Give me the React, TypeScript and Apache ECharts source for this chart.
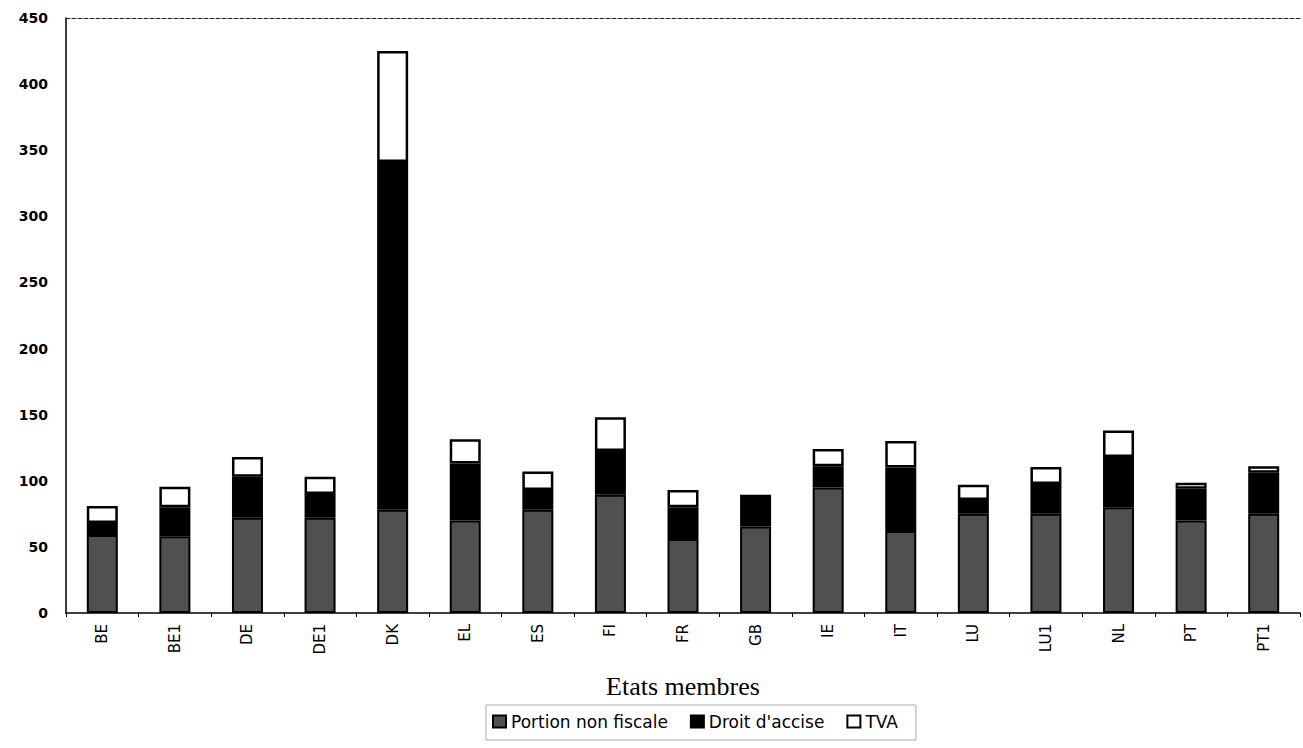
import React, { useEffect, useRef } from "react";
import * as echarts from "echarts";

const categories = ["BE", "BE1", "DE", "DE1", "DK", "EL", "ES", "FI", "FR", "GB", "IE", "IT", "LU", "LU1", "NL", "PT", "PT1"];
const portionNonFiscale = [59, 58, 72, 72, 78, 70, 78, 89.5, 56, 65.5, 95, 62, 75, 75, 80, 70, 75];
const droitAccise = [9, 22, 31, 18, 263, 43, 15, 33, 24, 23, 16, 48, 10.5, 22.5, 38, 24, 31];
const tva = [13, 15.5, 15, 13, 84, 18.5, 14, 25.5, 13, 0, 13, 20, 11.5, 13, 20, 4.5, 5];
const yTicks = { min: 0, max: 450, interval: 50 };

export default function App() {
  const ref = useRef<HTMLDivElement>(null);
  useEffect(() => {
    if (!ref.current) return;
    const chart = echarts.init(ref.current, null, { renderer: "svg" });
    const barW = 31;
    chart.setOption({
      animation: false,
      backgroundColor: "#ffffff",
      grid: { left: 66, right: 3, top: 18, bottom: 135 },
      legend: {
        data: ["Portion non fiscale", "Droit d'accise", "TVA"],
        left: 486,
        top: 705,
        padding: [8, 18, 10, 6],
        itemGap: 22,
        itemWidth: 13,
        itemHeight: 12,
        icon: "rect",
        borderColor: "#aaaaaa",
        borderWidth: 1,
        textStyle: { fontFamily: "DejaVu Sans", fontSize: 17, color: "#000" },
      },
      xAxis: [
        {
          type: "category",
          data: categories,
          name: "Etats membres",
          nameLocation: "middle",
          nameGap: 60,
          nameTextStyle: { fontFamily: "Liberation Serif", fontSize: 26, color: "#000" },
          axisLine: { lineStyle: { color: "#000", width: 1.5 } },
          axisTick: { show: true, length: 4, lineStyle: { color: "#000" } },
          axisLabel: {
            rotate: 90,
            fontFamily: "DejaVu Sans",
            fontSize: 15,
            color: "#000",
            margin: 11,
          },
        },
        {
          type: "category",
          data: categories,
          position: "top",
          axisLine: { show: true, lineStyle: { color: "#222", width: 1, type: "dashed" } },
          axisTick: { show: false },
          axisLabel: { show: false },
        },
      ],
      yAxis: {
        type: "value",
        min: yTicks.min,
        max: yTicks.max,
        interval: yTicks.interval,
        splitLine: { show: false },
        axisLine: { show: true, lineStyle: { color: "#000", width: 1.5 } },
        axisTick: { show: false },
        axisLabel: {
          fontFamily: "DejaVu Sans",
          fontWeight: "bold",
          fontSize: 14,
          color: "#000",
          margin: 18,
        },
      },
      series: [
        {
          name: "Portion non fiscale",
          type: "bar",
          stack: "total",
          barWidth: barW,
          data: portionNonFiscale,
          itemStyle: { color: "#505050", borderColor: "#000", borderWidth: 2 },
        },
        {
          name: "Droit d'accise",
          type: "bar",
          stack: "total",
          barWidth: barW,
          data: droitAccise,
          itemStyle: { color: "#000000", borderColor: "#000", borderWidth: 2 },
        },
        {
          name: "TVA",
          type: "bar",
          stack: "total",
          barWidth: barW,
          data: tva,
          itemStyle: { color: "#ffffff", borderColor: "#000", borderWidth: 2.5 },
        },
      ],
    });
    return () => chart.dispose();
  }, []);
  return (
    <div
      ref={ref}
      style={{ position: "fixed", left: 0, top: 0, width: 1303, height: 748, background: "#fff" }}
    />
  );
}
